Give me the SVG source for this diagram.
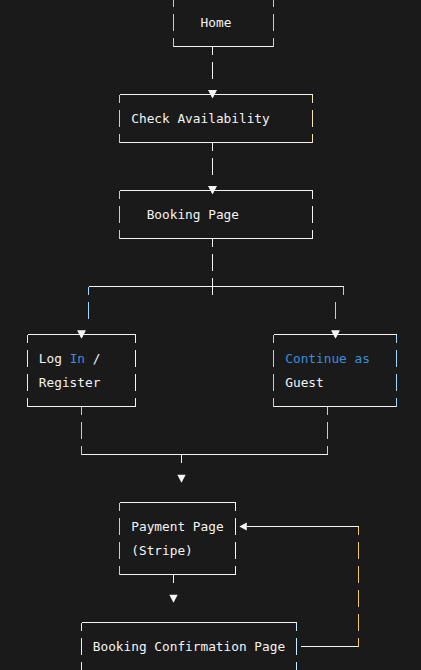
<svg xmlns="http://www.w3.org/2000/svg" width="421" height="670" viewBox="0 0 421 670">
<style>
.bg{fill:#1a1a1a}
.ln{stroke:#f4f4f4;stroke-width:1;fill:none;shape-rendering:crispEdges}
.d{stroke-dasharray:17.5 6.5;stroke-dashoffset:9}
.y{stroke:#f2c96c}
.b{stroke:#9cd8ff}
.ar{fill:#f4f4f4}
.t{font-family:"DejaVu Sans Mono","Liberation Mono",monospace;font-size:12.79px;fill:#f4f4f4}
.k{fill:#3b8fdc}
</style>
<rect class="bg" width="421" height="670"/>

<g id="connectors">
  <line class="ln d" x1="212.5" y1="46.5" x2="212.5" y2="79"/>
  <polygon class="ar" points="208.2,90 216.8,90 212.5,98.3"/>
  <line class="ln d" x1="212.5" y1="142.5" x2="212.5" y2="175"/>
  <polygon class="ar" points="208.2,186 216.8,186 212.5,194.3"/>
  <line class="ln d" x1="212.5" y1="238.5" x2="212.5" y2="295"/>
  <line class="ln" x1="88.5" y1="286.5" x2="343.5" y2="286.5"/>
  <line class="ln d b" x1="88.5" y1="286.5" x2="88.5" y2="319"/>
  <line class="ln b" x1="343.5" y1="286.5" x2="343.5" y2="295"/>
  <line class="ln b" x1="335.5" y1="301.5" x2="335.5" y2="319"/>
  <polygon class="ar" points="77.3,330.5 85.7,330.5 81.5,338.5"/>
  <polygon class="ar" points="331.3,330.5 339.7,330.5 335.5,338.5"/>
  <line class="ln d b" x1="81.5" y1="406.5" x2="81.5" y2="454.5"/>
  <line class="ln d y" x1="327.5" y1="406.5" x2="327.5" y2="454.5"/>
  <line class="ln" x1="81.5" y1="454.5" x2="327.5" y2="454.5"/>
  <line class="ln" x1="181.5" y1="454.5" x2="181.5" y2="463"/>
  <polygon class="ar" points="177.3,474.8 185.7,474.8 181.5,482.8"/>
  <line class="ln" x1="173.5" y1="574.5" x2="173.5" y2="583"/>
  <polygon class="ar" points="169.3,594.8 177.7,594.8 173.5,602.8"/>
  <line class="ln" x1="300.5" y1="646.5" x2="358.5" y2="646.5"/>
  <line class="ln d y" x1="358.5" y1="526.5" x2="358.5" y2="646.5"/>
  <line class="ln" x1="246.8" y1="526.5" x2="358.5" y2="526.5"/>
  <polygon class="ar" points="239.3,526.5 246.8,522.6 246.8,530.4"/>
</g>

<g id="home">
  <line class="ln" x1="173.5" y1="46.5" x2="273.5" y2="46.5"/>
  <line class="ln d y" x1="173.5" y1="-1.5" x2="173.5" y2="46.5"/>
  <line class="ln d y" x1="273.5" y1="-1.5" x2="273.5" y2="46.5"/>
  <text class="t" x="200.55" y="27">Home</text>
</g>

<g id="check-availability">
  <line class="ln" x1="119.5" y1="94.5" x2="312.5" y2="94.5"/>
  <line class="ln" x1="119.5" y1="142.5" x2="312.5" y2="142.5"/>
  <line class="ln d y" x1="119.5" y1="94.5" x2="119.5" y2="142.5"/>
  <line class="ln d" x1="312.5" y1="94.5" x2="312.5" y2="142.5" style="stroke:#f6e3b0"/>
  <polygon class="ar" points="208.2,90 216.8,90 212.5,98.3"/>
  <text class="t" x="131.25" y="123">Check Availability</text>
</g>

<g id="booking-page">
  <line class="ln" x1="119.5" y1="190.5" x2="312.5" y2="190.5"/>
  <line class="ln" x1="119.5" y1="238.5" x2="312.5" y2="238.5"/>
  <line class="ln d y" x1="119.5" y1="190.5" x2="119.5" y2="238.5"/>
  <line class="ln d" x1="312.5" y1="190.5" x2="312.5" y2="238.5"/>
  <polygon class="ar" points="208.2,186 216.8,186 212.5,194.3"/>
  <text class="t" x="146.65" y="219">Booking Page</text>
</g>

<g id="login-register">
  <line class="ln" x1="27.5" y1="334.5" x2="135.5" y2="334.5"/>
  <line class="ln" x1="27.5" y1="406.5" x2="135.5" y2="406.5"/>
  <line class="ln d" x1="27.5" y1="334.5" x2="27.5" y2="406.5" style="stroke:#d8f0ff"/>
  <line class="ln d" x1="135.5" y1="334.5" x2="135.5" y2="406.5"/>
  <polygon class="ar" points="77.3,330.5 85.7,330.5 81.5,338.5"/>
  <text class="t" x="38.85" y="363">Log <tspan class="k">In</tspan> /</text>
  <text class="t" x="38.85" y="387">Register</text>
</g>

<g id="continue-guest">
  <line class="ln" x1="273.5" y1="334.5" x2="396.5" y2="334.5"/>
  <line class="ln" x1="273.5" y1="406.5" x2="396.5" y2="406.5"/>
  <line class="ln d y" x1="273.5" y1="334.5" x2="273.5" y2="406.5"/>
  <line class="ln d b" x1="396.5" y1="334.5" x2="396.5" y2="406.5"/>
  <polygon class="ar" points="331.3,330.5 339.7,330.5 335.5,338.5"/>
  <text class="t k" x="285.25" y="363">Continue as</text>
  <text class="t" x="285.25" y="387">Guest</text>
</g>

<g id="payment-page">
  <line class="ln" x1="119.5" y1="502.5" x2="235.5" y2="502.5"/>
  <line class="ln" x1="119.5" y1="574.5" x2="235.5" y2="574.5"/>
  <line class="ln d y" x1="119.5" y1="502.5" x2="119.5" y2="574.5"/>
  <line class="ln d" x1="235.5" y1="502.5" x2="235.5" y2="574.5"/>
  <text class="t" x="131.25" y="531">Payment Page</text>
  <text class="t" x="131.25" y="555">(Stripe)</text>
</g>

<g id="booking-confirmation">
  <line class="ln" x1="81.5" y1="622.5" x2="296.5" y2="622.5"/>
  <line class="ln d" x1="81.5" y1="622.5" x2="81.5" y2="670.5" style="stroke:#d8f0ff"/>
  <line class="ln d" x1="296.5" y1="622.5" x2="296.5" y2="670.5" style="stroke:#c8ebff"/>
  <text class="t" x="92.75" y="651">Booking Confirmation Page</text>
</g>
</svg>
